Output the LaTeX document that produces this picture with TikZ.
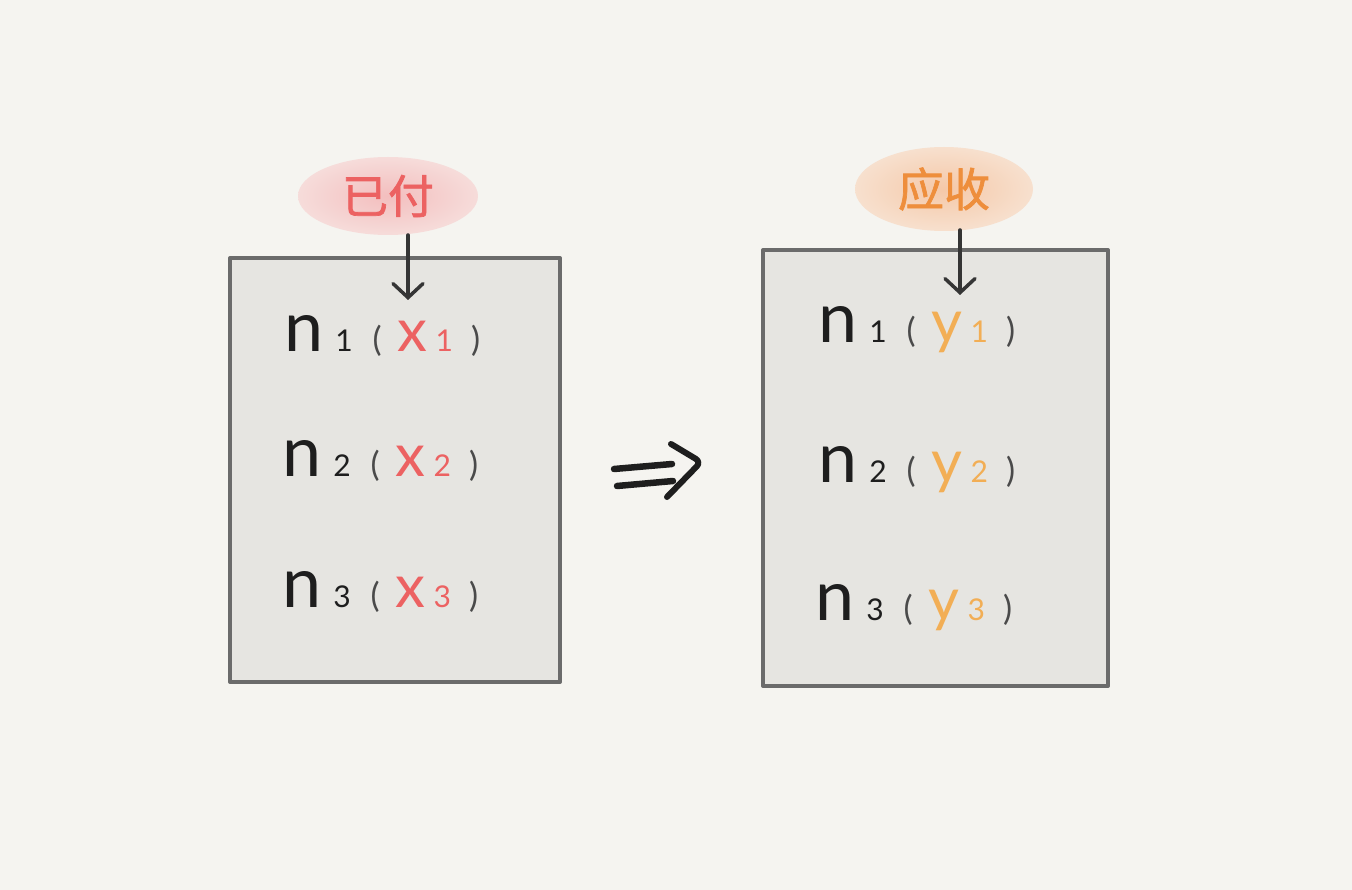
\documentclass[tikz,border=0pt]{standalone}
\usepackage{fontspec}
\setmainfont{Lato}
\newfontfamily\cjk[FakeBold=1.5]{Noto Sans CJK SC}
\usepackage{tikz}
\usetikzlibrary{arrows.meta,shapes.geometric}
\definecolor{paper}{HTML}{F5F4F0}
\definecolor{boxfill}{HTML}{E6E5E1}
\definecolor{boxline}{HTML}{6B6B6B}
\definecolor{paid}{HTML}{EC6262}
\definecolor{due}{HTML}{EE8E3C}
\definecolor{duey}{HTML}{F2AE55}
\definecolor{paren}{HTML}{4A4A4A}
\definecolor{ink}{HTML}{1E1E1E}
\newcommand{\ledgerrow}[3]{%
{\color{ink}\fontsize{70}{70}\selectfont n}\hspace{12pt}%
{\color{ink}\fontsize{30}{30}\selectfont #1}\hspace{20pt}%
{\color{paren}\fontsize{34}{34}\selectfont (}\hspace{16pt}%
{\color{#3}\fontsize{60}{60}\selectfont #2\hspace{8pt}\fontsize{30}{30}\selectfont #1}\hspace{18pt}%
{\color{paren}\fontsize{34}{34}\selectfont )}}

\begin{document}
\begin{tikzpicture}[x=1pt,y=-1pt]
\fill[paper] (0,0) rectangle (1352,890);
\useasboundingbox (0,0) rectangle (1352,890);
% the two ledgers
\draw[boxline, fill=boxfill, line width=4pt, line join=round]
  (230,258) -- (560,258) -- (560,682) -- (230,682) -- cycle;
\draw[boxline, fill=boxfill, line width=4pt, line join=round]
  (763,250) -- (1108,250) -- (1108,686) -- (763,686) -- cycle;
% labels
\node[ellipse, minimum width=180pt, minimum height=78pt, inner color={rgb,255:red,243;green,190;blue,190},
  outer color={rgb,255:red,246;green,220;blue,218}, font=\cjk\fontsize{46}{46}\selectfont, text=paid]
  (paid) at (388,196) {已付};
\node[ellipse, minimum width=178pt, minimum height=84pt, inner color={rgb,255:red,245;green,200;blue,168},
  outer color={rgb,255:red,247;green,224;blue,206}, font=\cjk\fontsize{46}{46}\selectfont, text=due]
  (due) at (944,189) {应收};
% rows
\node[anchor=base west, inner sep=0pt] (paid1) at (284,352) {\ledgerrow{1}{x}{paid}};
\node[anchor=base west, inner sep=0pt] (paid2) at (282,476) {\ledgerrow{2}{x}{paid}};
\node[anchor=base west, inner sep=0pt] (paid3) at (282,607) {\ledgerrow{3}{x}{paid}};
\node[anchor=base west, inner sep=0pt] (due1) at (818,343) {\ledgerrow{1}{y}{duey}};
\node[anchor=base west, inner sep=0pt] (due2) at (818,482) {\ledgerrow{2}{y}{duey}};
\node[anchor=base west, inner sep=0pt] (due3) at (815,620) {\ledgerrow{3}{y}{duey}};
% pointers
\coordinate (paid foot) at (408,235);
\coordinate (due foot) at (960,230);
\draw[ink!90, line width=3.5pt, line cap=round, -{Straight Barb[length=14pt,width=30pt,line cap=round]}]
  (paid foot) -- (paid foot |- 0,300);
\draw[ink!90, line width=3.5pt, line cap=round, -{Straight Barb[length=14pt,width=30pt,line cap=round]}]
  (due foot) -- (due foot |- 0,295);
% implies
\draw[ink, line width=6.5pt, line cap=round] (614,469) -- (672,464);
\draw[ink, line width=6.5pt, line cap=round] (617,486) -- (673,481);
\draw[ink, line width=6pt, line cap=round, line join=round, rounded corners=6pt]
  (671,444) -- (701,462) -- (667,497);
\end{tikzpicture}
\end{document}
